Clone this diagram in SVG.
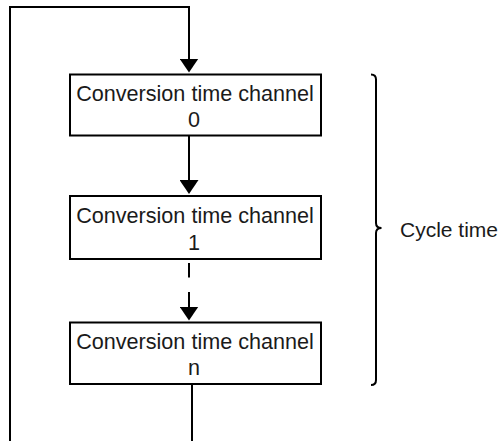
<svg xmlns="http://www.w3.org/2000/svg" width="502" height="441" viewBox="0 0 502 441">
  <style>
    .box { fill: #ffffff; stroke: #000000; stroke-width: 2; }
    .line { fill: none; stroke: #000000; stroke-width: 2; }
    .lbl { font-family: "Liberation Sans", Arial, sans-serif; font-size: 21.6px; fill: #1a1a1a; text-anchor: middle; }
    .side { font-family: "Liberation Sans", Arial, sans-serif; font-size: 21px; fill: #1a1a1a; }
  </style>
  <defs>
    <marker id="arrow" viewBox="0 0 14 19" refX="10" refY="9.5" markerWidth="14" markerHeight="19" markerUnits="userSpaceOnUse" orient="auto">
      <path d="M0,0 L14,9.5 L0,19 Z" fill="#000000"/>
    </marker>
  </defs>
  <rect width="502" height="441" fill="#ffffff"/>

  <g id="connectors">
    <path class="line" d="M10,441 L10,7 L189,7 L189,68.5" marker-end="url(#arrow)"/>
    <line class="line" x1="189" y1="136" x2="189" y2="190" marker-end="url(#arrow)"/>
    <line class="line" x1="189" y1="263" x2="189" y2="277.5"/>
    <line class="line" x1="189" y1="292" x2="189" y2="316.5" marker-end="url(#arrow)"/>
    <line class="line" x1="192" y1="384" x2="192" y2="441"/>
  </g>

  <g id="node-channel-0">
    <rect class="box" x="70" y="74.5" width="251" height="61"/>
    <text class="lbl" x="195" y="101">Conversion time channel</text>
    <text class="lbl" x="194" y="126.7">0</text>
  </g>

  <g id="node-channel-1">
    <rect class="box" x="70" y="196" width="251" height="63"/>
    <text class="lbl" x="195" y="223">Conversion time channel</text>
    <text class="lbl" x="194" y="250">1</text>
  </g>

  <g id="node-channel-n">
    <rect class="box" x="70" y="322.5" width="251" height="61.5"/>
    <text class="lbl" x="195" y="349.3">Conversion time channel</text>
    <text class="lbl" x="194" y="375">n</text>
  </g>

  <g id="cycle-time">
    <path class="line" d="M371,74.5 Q376,74.5 376,79.5 L376,223 Q376,228 381.5,228 Q376,228 376,233 L376,380 Q376,385 371,385"/>
    <text class="side" x="400" y="236.5">Cycle time</text>
  </g>
</svg>
